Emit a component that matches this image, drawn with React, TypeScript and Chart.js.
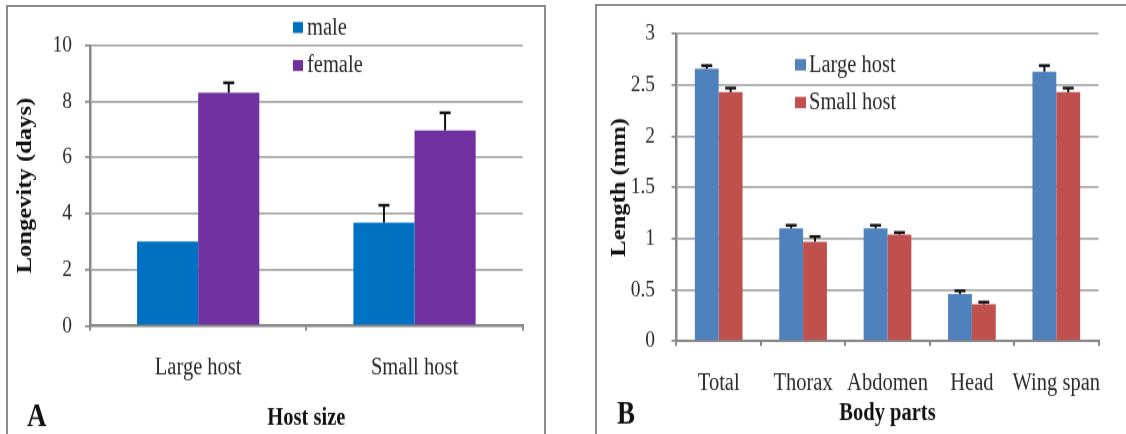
import React, { useEffect, useRef } from 'react';
import { Chart, registerables } from 'chart.js';

Chart.register(...registerables);

// ---------------- data ----------------
const hostCategories = ['Large host', 'Small host'];
const maleLongevity = [3.0, 3.68];
const maleErr = [0, 0.62];
const femaleLongevity = [8.32, 6.97];
const femaleErr = [0.35, 0.63];
const longevityTicks = [0, 2, 4, 6, 8, 10];

const bodyParts = ['Total', 'Thorax', 'Abdomen', 'Head', 'Wing span'];
const largeHostLength = [2.66, 1.1, 1.1, 0.46, 2.63];
const largeHostErr = [0.03, 0.03, 0.03, 0.03, 0.06];
const smallHostLength = [2.43, 0.97, 1.04, 0.36, 2.43];
const smallHostErr = [0.04, 0.05, 0.02, 0.02, 0.04];
const lengthTicks = [0, 0.5, 1, 1.5, 2, 2.5, 3];

// ---------------- style ----------------
const S = 1.2; // vertical stretch of the reference picture
const CH = 362; // canvas height (chart units)
const SERIF = '"Liberation Serif", "Times New Roman", serif';
const GRID = '#a8a8a8';
const AXIS = '#878787';
const TEXT = '#2b2b2b';

const errorBarPlugin = {
  id: 'errorBars',
  afterDatasetsDraw(chart: any) {
    const { ctx } = chart;
    const yScale = chart.scales.y;
    chart.data.datasets.forEach((ds: any, i: number) => {
      const meta = chart.getDatasetMeta(i);
      const errs = ds.errors || [];
      meta.data.forEach((bar: any, j: number) => {
        const e = errs[j];
        if (!e) return;
        const v = ds.data[j];
        const yTop = yScale.getPixelForValue(v + e);
        const yBase = yScale.getPixelForValue(v);
        ctx.save();
        ctx.strokeStyle = '#111';
        ctx.lineWidth = 2;
        ctx.beginPath();
        ctx.moveTo(bar.x, yBase);
        ctx.lineTo(bar.x, yTop);
        ctx.stroke();
        ctx.lineWidth = 2.4;
        ctx.beginPath();
        ctx.moveTo(bar.x - 5.5, yTop);
        ctx.lineTo(bar.x + 5.5, yTop);
        ctx.stroke();
        ctx.restore();
      });
    });
  },
};

const boxLegendPlugin = {
  id: 'boxLegend',
  afterDraw(chart: any, _args: any, opts: any) {
    if (!opts || opts.x == null) return;
    const { ctx } = chart;
    ctx.save();
    chart.data.datasets.forEach((ds: any, i: number) => {
      const cy = opts.y + i * opts.dy;
      ctx.fillStyle = ds.backgroundColor;
      ctx.fillRect(opts.x, cy - opts.boxH / 2, opts.boxW, opts.boxH);
      ctx.fillStyle = TEXT;
      ctx.font = `${opts.fontSize}px ${SERIF}`;
      ctx.textBaseline = 'middle';
      ctx.textAlign = 'left';
      ctx.fillText(ds.label, opts.x + opts.boxW + opts.gap, cy + 0.5);
    });
    ctx.restore();
  },
};

const panelLabelPlugin = {
  id: 'panelLabel',
  afterDraw(chart: any, _args: any, opts: any) {
    if (!opts || !opts.text) return;
    const { ctx } = chart;
    ctx.save();
    ctx.fillStyle = '#111';
    ctx.font = `bold ${opts.fontSize}px ${SERIF}`;
    ctx.textBaseline = 'middle';
    ctx.textAlign = 'left';
    ctx.fillText(opts.text, opts.x, opts.y);
    ctx.restore();
  },
};

function buildConfig(p: any) {
  return {
    type: 'bar',
    data: {
      labels: p.labels,
      datasets: p.datasets.map((d: any) => ({
        label: d.label,
        data: d.data,
        errors: d.errors,
        backgroundColor: d.color,
        borderWidth: 0,
        barPercentage: 1,
        categoryPercentage: 0.565,
      })),
    },
    plugins: [errorBarPlugin, boxLegendPlugin, panelLabelPlugin],
    options: {
      responsive: false,
      animation: false,
      devicePixelRatio: 1,
      events: [],
      layout: { padding: { top: p.plotTop, right: p.width - p.plotRight, left: 0, bottom: 0 } },
      plugins: {
        legend: { display: false },
        tooltip: { enabled: false },
        boxLegend: p.legend,
        panelLabel: p.panel,
      },
      scales: {
        x: {
          type: 'category',
          offset: true,
          grid: {
            display: true,
            drawOnChartArea: false,
            drawTicks: true,
            tickLength: 4.2,
            color: AXIS,
            lineWidth: 2,
            offset: true,
          },
          border: { display: true, color: AXIS, width: 2 },
          ticks: {
            autoSkip: false,
            maxRotation: 0,
            minRotation: 0,
            padding: p.xTickPad,
            color: TEXT,
            font: { family: SERIF, size: 20.5 },
          },
          title: {
            display: true,
            text: p.xTitle,
            color: '#111',
            font: { family: SERIF, size: 20.5, weight: 'bold' },
            padding: { top: 0, bottom: p.xTitlePad },
          },
          afterFit: (s: any) => {
            s.height = CH - p.plotBottom;
          },
        },
        y: {
          min: p.ticks[0],
          max: p.ticks[p.ticks.length - 1],
          afterBuildTicks: (s: any) => {
            s.ticks = p.ticks.map((v: number) => ({ value: v }));
          },
          ticks: {
            padding: p.yTickPad,
            color: TEXT,
            font: { family: SERIF, size: 19.5 },
            callback: (v: any) => String(v),
          },
          grid: {
            color: GRID,
            lineWidth: 1.7,
            drawTicks: true,
            tickLength: 5,
            tickColor: AXIS,
            tickWidth: 1.7,
          },
          border: { display: true, color: AXIS, width: 2.5 },
          title: {
            display: true,
            text: p.yTitle,
            color: '#111',
            font: { family: SERIF, size: 20.5, weight: 'bold' },
            padding: { top: p.yTitlePad, bottom: 0 },
          },
          afterFit: (s: any) => {
            s.width = p.plotLeft;
          },
        },
      },
    },
  };
}

const panelA = {
  width: 575,
  plotLeft: 90,
  plotRight: 522.7,
  plotTop: 45.5 / S,
  plotBottom: 325.7 / S,
  labels: hostCategories,
  ticks: longevityTicks,
  datasets: [
    { label: 'male', data: maleLongevity, errors: maleErr, color: '#0070C0' },
    { label: 'female', data: femaleLongevity, errors: femaleErr, color: '#7030A0' },
  ],
  xTitle: 'Host size',
  yTitle: 'Longevity (days)',
  xTickPad: 18.8,
  xTitlePad: 1.4,
  yTickPad: 13,
  yTitlePad: 13.7,
  legend: { x: 293, y: 22.9, dy: 31.7, boxW: 10, boxH: 9.2, gap: 4, fontSize: 20.5 },
  panel: { text: 'A', x: 27, y: 348.3, fontSize: 27 },
};

const panelB = {
  width: 551,
  plotLeft: 101.5,
  plotRight: 523.5,
  plotTop: 30 / S,
  plotBottom: 341 / S,
  labels: bodyParts,
  ticks: lengthTicks,
  datasets: [
    { label: 'Large host', data: largeHostLength, errors: largeHostErr, color: '#4F81BD' },
    { label: 'Small host', data: smallHostLength, errors: smallHostErr, color: '#C0504D' },
  ],
  xTitle: 'Body parts',
  yTitle: 'Length (mm)',
  xTickPad: 18.5,
  xTitlePad: 4.7,
  yTickPad: 16.5,
  yTitlePad: 32.7,
  legend: { x: 220, y: 54, dy: 31.4, boxW: 11, boxH: 9.5, gap: 3, fontSize: 20.5 },
  panel: { text: 'B', x: 42, y: 345.8, fontSize: 27 },
};

function ChartPanel({ left, p }: { left: number; p: any }) {
  const ref = useRef<HTMLCanvasElement | null>(null);
  useEffect(() => {
    if (!ref.current) return;
    const chart = new Chart(ref.current, buildConfig(p) as any);
    return () => chart.destroy();
  }, []);
  return (
    <div
      style={{
        position: 'absolute',
        left,
        top: 0,
        width: p.width,
        height: CH,
        transform: `scaleY(${S})`,
        transformOrigin: '0 0',
      }}
    >
      <canvas ref={ref} width={p.width} height={CH} style={{ display: 'block', width: p.width, height: CH }} />
    </div>
  );
}

export default function App() {
  return (
    <div
      style={{
        position: 'fixed',
        left: 0,
        top: 0,
        width: 1126,
        height: 434,
        overflow: 'hidden',
        background: '#fff',
      }}
    >
      <ChartPanel left={0} p={panelA} />
      <ChartPanel left={575} p={panelB} />
      <div
        style={{
          position: 'absolute',
          left: 6,
          top: 5,
          width: 540,
          height: 500,
          border: '2px solid #8c8c8c',
          boxSizing: 'border-box',
        }}
      />
      <div
        style={{
          position: 'absolute',
          left: 595,
          top: 4,
          width: 600,
          height: 500,
          border: '2px solid #8c8c8c',
          boxSizing: 'border-box',
        }}
      />
    </div>
  );
}
